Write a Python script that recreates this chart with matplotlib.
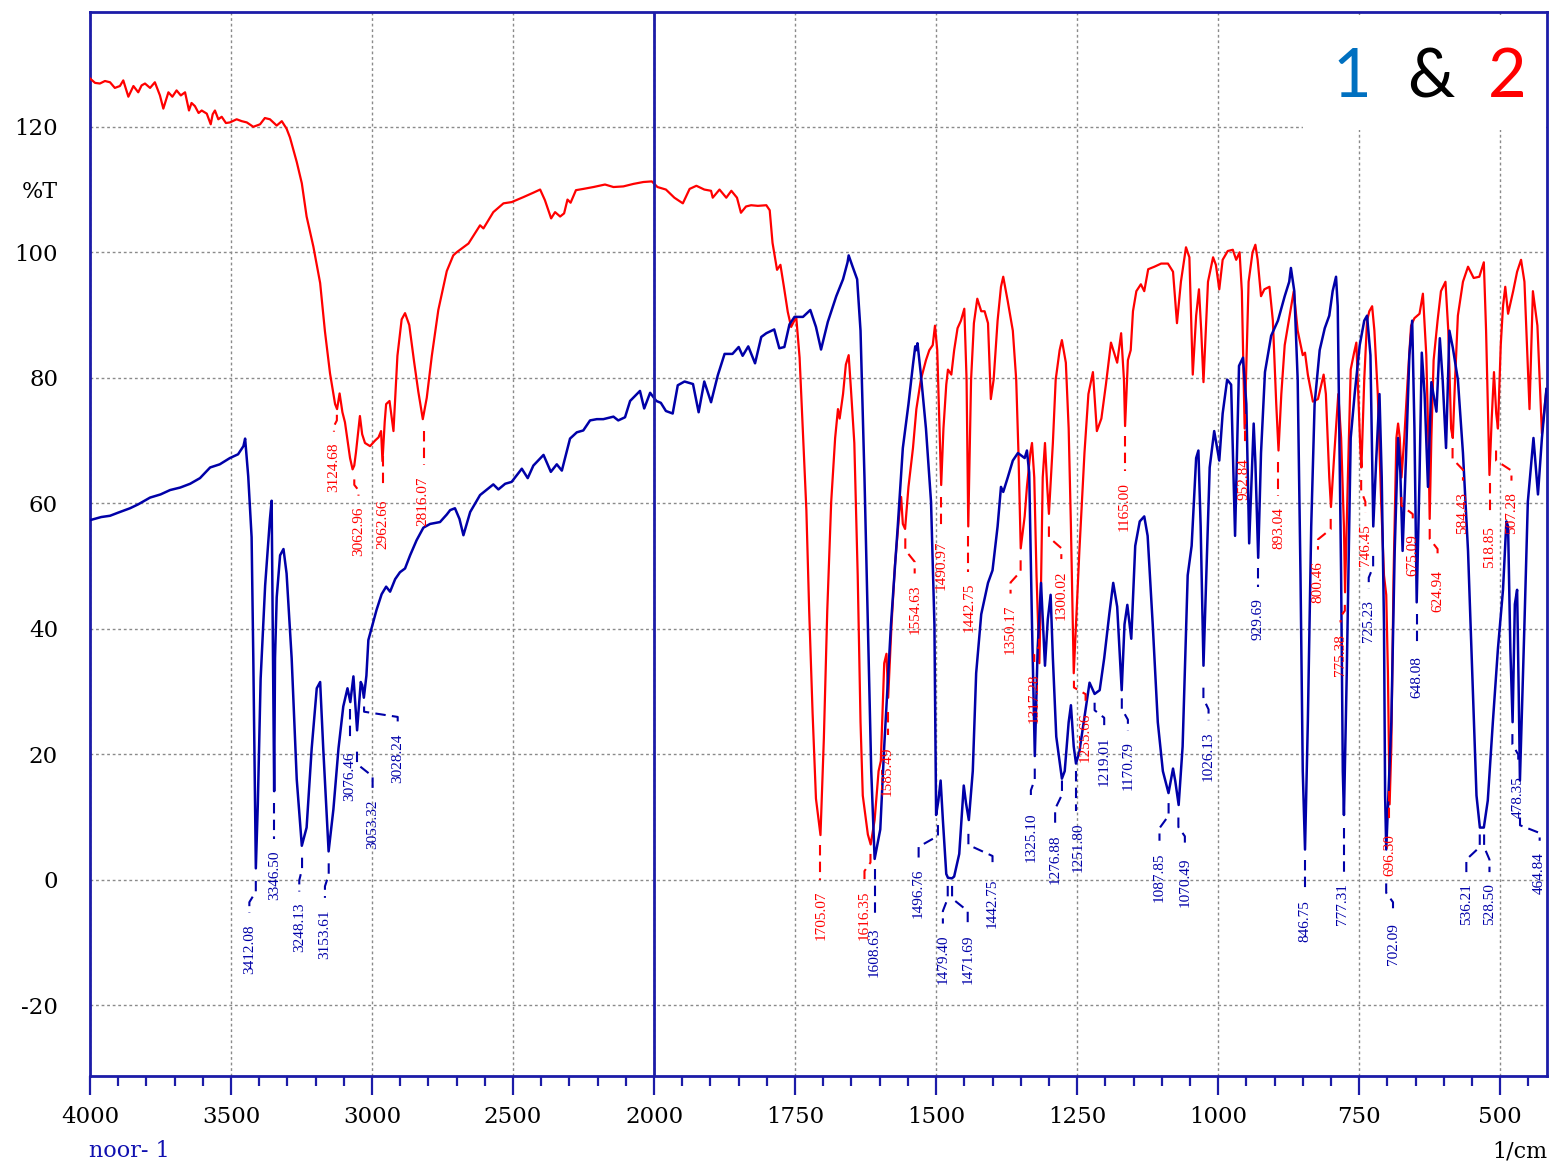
import numpy as np
import matplotlib
matplotlib.use('Agg')
import matplotlib.pyplot as plt
from matplotlib.patches import Rectangle

plt.rcParams['axes.unicode_minus'] = False

# ---- spectrum 1 (blue) : wavenumber (1/cm), %T
wn1 = [4000, 3960, 3929, 3900, 3858, 3830, 3787, 3750, 3716, 3680, 3645, 3610, 3574, 3540,
       3504, 3475, 3456, 3450, 3439, 3427, 3421, 3417, 3412, 3405, 3395, 3379, 3362, 3356,
       3352, 3347, 3344, 3338, 3326, 3314, 3303, 3285, 3267, 3249, 3232, 3214, 3196, 3184,
       3173, 3154, 3137, 3119, 3102, 3087, 3077, 3066, 3053, 3040, 3035, 3029, 3020, 3013,
       3001, 2984, 2966, 2950, 2936, 2918, 2901, 2883, 2865, 2842, 2818, 2794, 2759, 2735,
       2723, 2706, 2690, 2676, 2652, 2617, 2570, 2552, 2528, 2505, 2469, 2448, 2428, 2392,
       2366, 2345, 2327, 2298, 2274, 2251, 2227, 2203, 2180, 2144, 2127, 2103, 2085, 2050,
       2035, 2014, 1996, 1988, 1979, 1967, 1958, 1946, 1931, 1921, 1911, 1899, 1887, 1875,
       1861, 1850, 1843, 1833, 1821, 1810, 1801, 1787, 1778, 1769, 1760, 1751, 1736, 1723,
       1713, 1704, 1692, 1677, 1665, 1657, 1655, 1648, 1640, 1634, 1627, 1621, 1615, 1609,
       1599, 1592, 1580, 1568, 1559, 1549, 1541, 1537, 1535, 1533, 1527, 1518, 1509, 1503,
       1500, 1496, 1492, 1488, 1482, 1479, 1472, 1468, 1459, 1451, 1447, 1442, 1435, 1429,
       1420, 1408, 1400, 1391, 1385, 1381, 1373, 1364, 1355, 1343, 1339, 1335, 1330, 1325,
       1320, 1314, 1307, 1302, 1297, 1293, 1287, 1277, 1272, 1265, 1261, 1256, 1252, 1246,
       1237, 1228, 1219, 1210, 1202, 1193, 1186, 1179, 1171, 1166, 1161, 1154, 1147, 1139,
       1131, 1125, 1116, 1107, 1098, 1088, 1080, 1076, 1070, 1063, 1054, 1047, 1039, 1035,
       1031, 1026, 1021, 1015, 1007, 998, 992, 984, 977, 970, 963, 956, 950, 945,
       937, 934, 929, 924, 917, 906, 894, 882, 874, 871, 865, 859, 854, 850,
       846, 841, 835, 829, 820, 811, 803, 797, 791, 788, 782, 779, 777, 772,
       765, 758, 749, 741, 736, 730, 725, 720, 714, 710, 706, 704, 702, 693,
       687, 681, 677, 673, 667, 661, 656, 652, 648, 643, 639, 634, 628, 622,
       613, 607, 602, 596, 590, 584, 575, 566, 557, 548, 542, 536, 529, 522,
       513, 504, 495, 489, 486, 482, 478, 474, 470, 467, 465, 457, 451, 441,
       433, 426, 418]
t1 = [57.3, 57.8, 58.0, 58.5, 59.2, 59.8, 60.9, 61.4, 62.1, 62.5, 63.1, 64.0, 65.7, 66.2,
      67.2, 67.8, 69.1, 70.3, 64.3, 54.6, 35.3, 20.0, 1.8, 12.0, 32.0, 46.9, 57.5, 60.4,
      40.0, 14.1, 35.3, 45.0, 51.7, 52.7, 48.8, 35.3, 16.0, 5.4, 8.3, 20.9, 30.5, 31.5,
      20.9, 4.5, 11.2, 20.9, 27.6, 30.5, 28.3, 32.4, 23.8, 31.5, 31.0, 29.0, 32.5, 38.2,
      40.2, 43.0, 45.5, 46.7, 45.9, 47.9, 49.0, 49.6, 51.7, 54.1, 56.1, 56.7, 57.0, 58.2,
      58.9, 59.2, 57.5, 54.9, 58.6, 61.3, 63.0, 62.2, 63.1, 63.4, 65.5, 64.0, 66.0, 67.7,
      65.0, 66.2, 65.2, 70.3, 71.3, 71.6, 73.2, 73.4, 73.4, 73.8, 73.2, 73.7, 76.3, 77.9,
      75.1, 77.6, 76.3, 76.0, 74.7, 74.3, 78.8, 79.4, 79.0, 74.5, 79.4, 76.1, 80.4, 83.8,
      83.8, 84.9, 83.5, 85.0, 82.3, 86.5, 87.1, 87.7, 84.7, 84.9, 88.5, 89.7, 89.7, 90.8,
      88.1, 84.5, 88.9, 93.0, 95.7, 98.4, 99.5, 97.7, 95.7, 87.5, 64.1, 40.7, 17.3, 3.3,
      8.0, 21.2, 40.7, 56.3, 68.8, 75.8, 82.1, 85.0, 84.4, 85.5, 80.5, 71.9, 60.2, 40.7,
      10.3, 12.6, 15.8, 9.5, 0.9, 0.3, 0.2, 0.5, 4.1, 15.0, 12.2, 9.5, 17.3, 32.9,
      42.3, 47.3, 49.3, 56.3, 62.6, 61.8, 64.1, 66.8, 68.0, 67.2, 68.4, 64.9, 40.7, 19.7,
      36.8, 47.3, 34.1, 41.5, 45.4, 35.3, 22.8, 16.1, 17.3, 25.1, 27.8, 21.2, 18.5, 20.4,
      25.9, 31.4, 29.6, 30.2, 35.3, 42.3, 47.3, 43.5, 30.2, 40.7, 43.8, 38.4, 53.2, 57.1,
      57.9, 54.8, 40.7, 25.1, 17.3, 13.8, 17.7, 15.7, 11.9, 21.2, 48.5, 53.2, 67.2, 68.4,
      56.3, 34.1, 48.5, 65.7, 71.5, 66.8, 74.3, 79.7, 78.9, 54.8, 81.9, 83.2, 75.8, 53.6,
      72.7, 66.5, 51.3, 68.0, 80.9, 86.7, 89.1, 93.0, 95.3, 97.5, 93.8, 79.7, 48.5, 17.3,
      4.8, 25.1, 56.3, 75.8, 84.4, 87.9, 89.9, 93.8, 96.1, 91.4, 48.5, 17.3, 10.3, 32.9,
      70.4, 77.4, 85.2, 89.1, 89.9, 83.6, 56.3, 66.5, 77.4, 64.1, 40.7, 13.4, 4.8, 25.1,
      52.4, 70.4, 64.9, 52.4, 67.2, 83.6, 89.1, 71.9, 44.2, 64.1, 84.0, 77.4, 62.6, 79.3,
      74.6, 86.3, 79.7, 68.8, 87.5, 84.8, 79.7, 68.0, 52.4, 29.0, 13.4, 8.3, 8.3, 12.6,
      25.1, 36.8, 46.2, 57.1, 56.3, 36.8, 25.1, 43.9, 46.2, 29.0, 15.8, 40.7, 60.2, 70.4,
      61.4, 70.4, 78.2]

# ---- spectrum 2 (red)
wn2 = [4000, 3982, 3965, 3947, 3929, 3912, 3894, 3882, 3864, 3846, 3829, 3817, 3805, 3787,
       3770, 3752, 3740, 3722, 3708, 3693, 3678, 3663, 3649, 3640, 3628, 3615, 3604, 3586,
       3572, 3565, 3557, 3545, 3533, 3518, 3504, 3480, 3462, 3444, 3421, 3397, 3380, 3362,
       3338, 3320, 3303, 3291, 3267, 3249, 3232, 3208, 3184, 3167, 3149, 3131, 3124, 3115,
       3105, 3096, 3078, 3069, 3063, 3057, 3043, 3035, 3025, 3007, 2989, 2977, 2968, 2963,
       2955, 2950, 2938, 2924, 2910, 2895, 2883, 2868, 2851, 2836, 2820, 2806, 2788, 2765,
       2735, 2712, 2700, 2658, 2617, 2605, 2570, 2534, 2505, 2463, 2428, 2404, 2387, 2365,
       2351, 2333, 2319, 2307, 2296, 2277, 2251, 2215, 2174, 2144, 2109, 2073, 2038, 2008,
       1994, 1979, 1964, 1949, 1937, 1925, 1911, 1899, 1896, 1884, 1872, 1863, 1853, 1846,
       1837, 1828, 1816, 1801, 1795, 1790, 1782, 1776, 1770, 1763, 1757, 1748, 1742, 1736,
       1730, 1725, 1719, 1713, 1705, 1699, 1693, 1686, 1679, 1674, 1671, 1665, 1660, 1655,
       1651, 1645, 1639, 1634, 1630, 1621, 1616, 1609, 1602, 1598, 1592, 1588, 1585, 1579,
       1573, 1565, 1562, 1559, 1555, 1549, 1541, 1535, 1527, 1518, 1512, 1506, 1502, 1498,
       1494, 1491, 1487, 1482, 1479, 1473, 1468, 1462, 1456, 1450, 1446, 1443, 1438, 1433,
       1427, 1420, 1414, 1408, 1403, 1398, 1391, 1385, 1381, 1373, 1364, 1358, 1354, 1350,
       1343, 1339, 1333, 1330, 1326, 1322, 1317, 1314, 1311, 1307, 1303, 1300, 1293, 1288,
       1281, 1277, 1270, 1265, 1261, 1256, 1252, 1246, 1237, 1230, 1222, 1215, 1207, 1199,
       1190, 1179, 1172, 1167, 1165, 1160, 1155, 1151, 1145, 1137, 1131, 1124, 1113, 1101,
       1089, 1080, 1073, 1066, 1057, 1051, 1045, 1039, 1034, 1030, 1026, 1018, 1009, 1004,
       998, 992, 983, 974, 968, 962, 958, 953, 946, 939, 934, 930, 924, 918,
       909, 903, 897, 893, 888, 882, 874, 866, 859, 850, 846, 841, 832, 823,
       813, 809, 803, 800, 794, 787, 782, 777, 775, 770, 765, 759, 755, 751,
       748, 746, 741, 736, 732, 727, 723, 717, 711, 706, 702, 699, 696, 693,
       689, 684, 681, 678, 675, 670, 664, 658, 652, 643, 637, 631, 627, 625,
       622, 618, 611, 605, 597, 592, 587, 584, 580, 575, 566, 557, 547, 537,
       529, 525, 522, 519, 515, 511, 507, 504, 499, 495, 491, 486, 477, 470,
       463, 457, 448, 442, 434, 426, 418]
t2 = [127.7, 127.0, 126.9, 127.3, 127.1, 126.2, 126.5, 127.4, 124.8, 126.5, 125.5, 126.6, 126.9, 126.2,
      127.1, 125.0, 122.9, 125.5, 124.8, 125.8, 125.0, 125.5, 122.6, 123.8, 123.3, 122.2, 122.6, 122.1,
      120.4, 122.0, 122.6, 121.2, 121.6, 120.6, 120.7, 121.2, 120.9, 120.7, 120.0, 120.4, 121.4, 121.2,
      120.2, 120.9, 119.7, 118.3, 114.4, 111.0, 105.7, 100.9, 95.1, 87.4, 80.7, 75.8, 75.0, 77.5,
      74.5, 72.9, 67.2, 65.4, 66.0, 68.1, 73.9, 71.0, 69.6, 69.1, 70.0, 70.5, 71.5, 66.7,
      73.0, 75.8, 76.3, 71.5, 83.5, 89.3, 90.3, 88.4, 82.6, 77.8, 73.4, 76.8, 83.5, 90.8,
      97.0, 99.5, 100.0, 101.4, 104.3, 103.8, 106.4, 107.8, 108.0, 108.8, 109.5, 110.0, 108.3, 105.4,
      106.4, 105.7, 106.2, 108.4, 107.9, 109.9, 110.1, 110.4, 110.8, 110.4, 110.5, 110.9, 111.2, 111.3,
      110.4, 110.0, 108.7, 107.8, 110.1, 110.6, 110.0, 109.8, 108.7, 110.0, 108.7, 109.8, 108.7, 106.3,
      107.3, 107.5, 107.4, 107.5, 106.7, 101.5, 97.2, 98.0, 94.6, 90.5, 88.1, 89.7, 83.2, 71.1,
      58.9, 42.8, 26.6, 12.9, 7.1, 22.5, 42.8, 60.2, 70.4, 75.0, 73.5, 77.4, 82.1, 83.6,
      78.2, 69.6, 48.5, 25.1, 13.4, 7.2, 5.6, 9.5, 17.3, 18.9, 34.5, 36.0, 29.0, 40.7,
      50.1, 58.7, 61.0, 56.7, 55.9, 62.6, 68.8, 75.0, 79.7, 82.8, 84.4, 85.2, 88.3, 84.4,
      71.9, 62.9, 71.9, 78.9, 81.3, 80.5, 84.4, 87.9, 89.1, 91.0, 79.7, 56.3, 79.7, 88.7,
      92.6, 90.6, 90.6, 88.7, 76.6, 79.7, 89.1, 94.5, 96.1, 92.2, 87.5, 79.7, 68.0, 52.8,
      57.9, 62.6, 68.0, 69.6, 64.1, 48.5, 34.5, 47.0, 64.1, 69.6, 62.6, 58.3, 69.6, 79.7,
      84.4, 86.0, 82.4, 71.9, 56.3, 32.9, 40.7, 52.4, 68.0, 77.4, 80.9, 71.5, 73.5, 78.9,
      85.6, 82.4, 87.1, 79.7, 72.3, 82.8, 84.4, 90.6, 93.8, 94.9, 93.8, 97.3, 97.7, 98.2,
      98.2, 96.9, 88.7, 95.3, 100.8, 99.2, 80.5, 89.9, 94.1, 87.5, 79.3, 95.3, 99.2, 98.0,
      94.1, 98.8, 100.2, 100.4, 98.8, 100.0, 93.8, 71.9, 95.3, 100.0, 101.2, 98.8, 93.0, 94.1,
      94.5, 89.1, 75.8, 68.4, 77.4, 85.2, 89.5, 93.8, 87.5, 83.6, 84.0, 80.5, 76.2, 76.6,
      80.5, 77.4, 64.1, 59.4, 68.0, 77.4, 70.4, 56.3, 45.8, 64.1, 81.3, 84.0, 85.6, 75.8,
      68.8, 65.7, 79.7, 89.1, 90.6, 91.4, 87.5, 77.4, 60.2, 48.5, 45.4, 32.9, 12.0, 21.2,
      48.5, 70.4, 72.7, 70.4, 64.1, 70.4, 79.7, 88.3, 89.5, 90.2, 93.4, 83.6, 68.8, 57.5,
      70.4, 82.8, 89.1, 93.8, 95.3, 87.5, 71.9, 70.4, 79.7, 89.9, 95.3, 97.7, 95.9, 96.1,
      98.4, 87.5, 75.8, 64.5, 73.5, 80.9, 74.3, 71.9, 85.2, 91.4, 94.5, 90.2, 93.8, 96.9,
      98.8, 95.3, 75.0, 93.8, 88.3, 71.1, 78.2]

# peak labels: (label, text x, leader start %T, text top %T)
peaks1 = [("3412.08", 3435, -0.2, -7.1), ("3346.50", 3344, 12.2, 4.7), ("3248.13", 3258, 3.5, -3.7),
          ("3153.61", 3167, 2.6, -4.7), ("3076.46", 3078, 27.2, 20.4), ("3053.32", 2998, 20.4, 12.7),
          ("3028.24", 2909, 27.6, 23.3), ("1608.63", 1609, 1.7, -7.6), ("1496.76", 1531, 8.7, 1.7),
          ("1479.40", 1488, -1.0, -8.8), ("1471.69", 1444, -1.0, -8.8), ("1442.75", 1400, 7.3, 0.2),
          ("1325.10", 1332, 17.7, 10.7), ("1276.88", 1289, 15.8, 7.2), ("1251.80", 1248, 17.3, 9.1),
          ("1219.01", 1202, 28.2, 22.8), ("1170.79", 1160, 28.9, 22.0), ("1087.85", 1104, 12.2, 4.4),
          ("1070.49", 1059, 9.9, 3.6), ("1026.13", 1017, 30.6, 23.6), ("929.69", 929, 49.6, 44.9),
          ("846.75", 846, 3.1, -3.2), ("777.31", 779, 8.3, -0.6), ("725.23", 733, 51.6, 44.6),
          ("702.09", 690, -0.6, -6.9), ("648.08", 648, 42.3, 35.6), ("536.21", 560, 7.2, -0.6),
          ("528.50", 519, 7.2, -0.6), ("478.35", 468, 23.2, 16.5), ("464.84", 430, 9.9, 4.4)]
peaks2 = [("3124.68", 3135, 74.1, 69.6), ("3062.96", 3048, 63.8, 59.4), ("2962.66", 2962, 67.6, 60.6),
          ("2816.07", 2818, 71.5, 64.3), ("1705.07", 1704, 5.5, -1.8), ("1616.35", 1627, 4.1, -1.8),
          ("1585.49", 1586, 26.7, 21.2), ("1554.63", 1538, 54.4, 47.0), ("1490.97", 1491, 61.0, 54.0),
          ("1442.75", 1441, 54.8, 47.3), ("1350.17", 1368, 50.9, 43.8), ("1317.28", 1326, 38.4, 32.9),
          ("1300.02", 1278, 56.3, 49.3), ("1255.66", 1235, 31.7, 26.7), ("1165.00", 1166, 70.7, 63.3),
          ("952.84", 955, 74.2, 67.2), ("893.04", 893, 66.5, 59.4), ("800.46", 823, 57.5, 50.8),
          ("775.38", 783, 43.8, 39.2), ("746.45", 739, 63.7, 56.7), ("696.30", 696, 14.2, 7.2),
          ("675.09", 655, 61.0, 55.1), ("624.94", 611, 55.9, 49.3), ("584.43", 566, 68.8, 61.8),
          ("518.85", 519, 63.3, 56.3), ("507.28", 480, 68.4, 61.8)]

major_ticks = [4000, 3500, 3000, 2500, 2000, 1750, 1500, 1250, 1000, 750, 500]
minor_ticks = [w for w in range(3900, 2000, -100) if w % 500] + \
              [w for w in range(1950, 420, -50) if w % 250]
y_ticks = [-20, 0, 20, 40, 60, 80, 100, 120]

BLUE = '#0000a8'
RED = '#ff0000'
AXC = '#1c1ca8'


# x axis: scale doubles below 2000 1/cm
def fwd(w):
    w = np.asarray(w, dtype=float)
    return np.where(w >= 2000, w, 2 * w - 2000)


def inv(u):
    u = np.asarray(u, dtype=float)
    return np.where(u >= 2000, u, (u + 2000) / 2)


fig = plt.figure(figsize=(15.52, 11.63), dpi=100)
ax = fig.add_axes([90 / 1552, 1 - 1076 / 1163, 1457 / 1552, 1064 / 1163])
ax.set_xscale('function', functions=(fwd, inv))
ax.set_xlim(4000, 417)
ax.set_ylim(-31.3, 138.3)
ax.set_axisbelow(True)

ax.plot(wn2, t2, color=RED, lw=1.6, zorder=3)
ax.plot(wn1, t1, color=BLUE, lw=1.8, zorder=4)
ax.axvline(2000, color=AXC, lw=2, zorder=5)


def label_peaks(items, color):
    for text, lx, y0, yt in items:
        px = float(text)
        y1 = yt + 1.8
        if abs(px - lx) < 4:
            xs, ys = [px, px], [y0, y1]
        else:
            k = (y0 - y1) / 3
            xs, ys = [px, px, lx, lx], [y0, y0 - k, y1 + k, y1]
        ax.plot(xs, ys, color=color, lw=1.5, ls=(0, (5, 3)), zorder=6)
        ax.text(lx, yt, text, rotation=90, ha='center', va='top', color=color,
                fontsize=11, family='Liberation Serif', zorder=6)


label_peaks(peaks2, RED)
label_peaks(peaks1, BLUE)

ax.set_xticks(major_ticks)
ax.set_xticklabels([str(v) for v in major_ticks])
ax.set_xticks(minor_ticks, minor=True)
ax.set_yticks(y_ticks)
ax.tick_params(axis='x', which='major', length=13.5, width=1.6, color=AXC, pad=8,
               labelsize=16.5, direction='out')
ax.tick_params(axis='x', which='minor', length=7, width=1.6, color=AXC, direction='out')
ax.tick_params(axis='y', length=0, pad=23, labelsize=16.5)
for lab in ax.get_xticklabels() + ax.get_yticklabels():
    lab.set_family('DejaVu Serif')

ax.grid(True, which='major', color='#8a8a8a', ls=(0, (2, 2)), lw=1)
for s in ax.spines.values():
    s.set_color(AXC)
    s.set_linewidth(2)

# white box behind the "1 & 2" title
ax.add_patch(Rectangle((0.8326, 0.889), 0.165, 0.108, transform=ax.transAxes,
                       facecolor='white', edgecolor='none', zorder=1))
ax.text(0.866, 0.92, '1', color='#0070c0', fontsize=48, family='Lato', ha='center',
        va='baseline', transform=ax.transAxes)
ax.text(0.920, 0.92, '&', color='black', fontsize=48, family='Lato', ha='center',
        va='baseline', transform=ax.transAxes)
ax.text(0.9725, 0.92, '2', color='#ff0000', fontsize=48, family='Lato', ha='center',
        va='baseline', transform=ax.transAxes)

fig.text(58 / 1552, 1 - 192 / 1163, '%T', ha='right', va='center', fontsize=16,
         family='DejaVu Serif')
fig.text(89 / 1552, 1 - 1151 / 1163, 'noor- 1', ha='left', va='center', fontsize=16,
         family='DejaVu Serif', color='#1010b0')
fig.text(1547 / 1552, 1 - 1151 / 1163, '1/cm', ha='right', va='center', fontsize=16,
         family='DejaVu Serif')

fig.savefig('out.png', dpi=100)
